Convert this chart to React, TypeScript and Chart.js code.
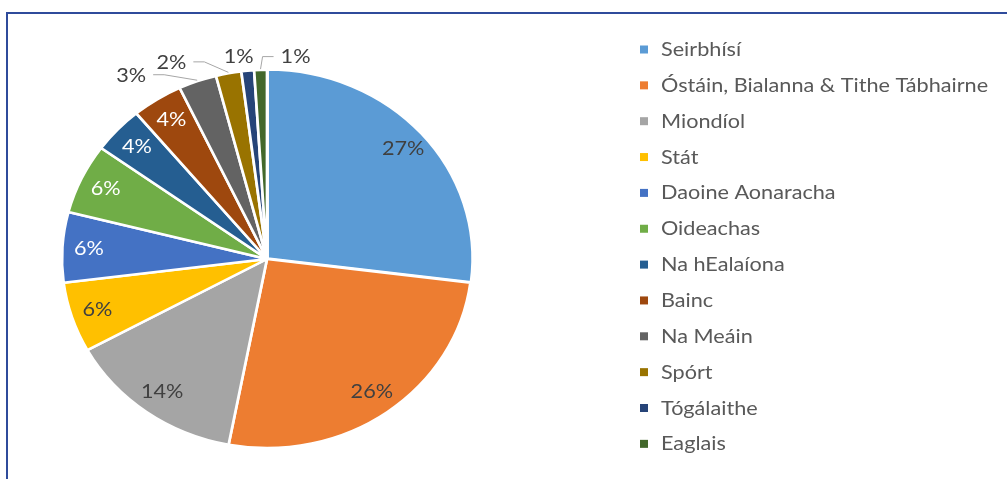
import React, { useEffect, useRef } from "react";
import { Chart, registerables } from "chart.js";

Chart.register(...registerables);

// ---- data ----
const categories = [
  "Seirbhísí",
  "Óstáin, Bialanna & Tithe Tábhairne",
  "Miondíol",
  "Stát",
  "Daoine Aonaracha",
  "Oideachas",
  "Na hEalaíona",
  "Bainc",
  "Na Meáin",
  "Spórt",
  "Tógálaithe",
  "Eaglais",
];
const shares = [27, 26, 14, 6, 6, 6, 4, 4, 3, 2, 1, 1];

// ---- styles ----
const sliceColors = [
  "#5B9BD5",
  "#ED7D31",
  "#A5A5A5",
  "#FFC000",
  "#4472C4",
  "#70AD47",
  "#255E91",
  "#9E480E",
  "#636363",
  "#997300",
  "#264478",
  "#43682B",
];
const DARK = "#404040";
const LIGHT = "#FFFFFF";
const labelColors = [DARK, DARK, DARK, DARK, LIGHT, LIGHT, LIGHT, LIGHT, DARK, DARK, DARK, DARK];
// outside label offsets (px) relative to the slice's outer-edge midpoint
const outsideOffsets: Record<number, [number, number]> = {
  8: [-66, -5],
  9: [-57, -10],
  10: [-9, -13],
  11: [35, -12],
};
const FONT = "19.5px Lato, 'Open Sans', sans-serif";
const TX = 1.11; // horizontal stretch of text
const SX = 205 / 189; // horizontal stretch of the pie
const LEGEND_X = 640;
const LEGEND_Y0 = 49;
const LEGEND_STEP = 35.85;

function drawText(ctx: CanvasRenderingContext2D, text: string, x: number, y: number) {
  ctx.save();
  ctx.translate(x, y);
  ctx.scale(TX, 1);
  ctx.fillText(text, 0, 0);
  ctx.restore();
}

export default function App() {
  const ref = useRef<HTMLCanvasElement>(null);

  useEffect(() => {
    const canvas = ref.current;
    if (!canvas) return;

    const stretchPlugin = {
      id: "stretch",
      beforeDatasetsDraw(chart: any) {
        const { ctx, chartArea } = chart;
        const cx = (chartArea.left + chartArea.right) / 2;
        const cy = (chartArea.top + chartArea.bottom) / 2;
        ctx.save();
        ctx.translate(cx, cy);
        ctx.scale(SX, 1);
        ctx.translate(-cx, -cy);
      },
      afterDatasetsDraw(chart: any) {
        const { ctx } = chart;
        ctx.restore();
        const ds = chart.data.datasets[0];
        const meta = chart.getDatasetMeta(0);
        ctx.save();
        ctx.font = FONT;
        ctx.textAlign = "center";
        ctx.textBaseline = "middle";
        meta.data.forEach((el: any, i: number) => {
          const p = el.getProps(["x", "y", "startAngle", "endAngle", "outerRadius"], true);
          const mid = (p.startAngle + p.endAngle) / 2;
          const c = Math.cos(mid);
          const s = Math.sin(mid);
          const off = (ds.offset && ds.offset[i]) || 0;
          const text = ds.data[i] + "%";
          const w = ctx.measureText(text).width * TX;
          const o = outsideOffsets[i];
          ctx.fillStyle = labelColors[i];
          if (o) {
            const ex = p.x + c * (p.outerRadius + off + 1) * SX;
            const ey = p.y + s * (p.outerRadius + off + 1);
            const lx = ex + o[0];
            const ly = ey + o[1];
            if (Math.abs(o[0]) > 20) {
              ctx.strokeStyle = "#A6A6A6";
              ctx.lineWidth = 1;
              ctx.beginPath();
              const dir = o[0] < 0 ? 1 : -1;
              const sx0 = lx + dir * (w / 2 + 7);
              const sx1 = sx0 + dir * 11;
              ctx.moveTo(sx0, ly - 0.5);
              ctx.lineTo(sx1, ly - 0.5);
              ctx.lineTo(ex, ey);
              ctx.stroke();
            }
            drawText(ctx, text, lx, ly);
          } else {
            const r = p.outerRadius * 0.87 + off;
            const lx = p.x + c * r * SX;
            const ly = p.y + s * r;
            drawText(ctx, text, lx, ly);
          }
        });
        ctx.restore();
      },
    };

    const legendPlugin = {
      id: "customLegend",
      afterDraw(chart: any) {
        const { ctx } = chart;
        const ds = chart.data.datasets[0];
        ctx.save();
        ctx.font = FONT;
        ctx.textAlign = "left";
        ctx.textBaseline = "alphabetic";
        chart.data.labels.forEach((lab: string, i: number) => {
          const cy = LEGEND_Y0 + i * LEGEND_STEP;
          ctx.fillStyle = ds.backgroundColor[i];
          ctx.fillRect(LEGEND_X, cy - 3.5, 8, 8);
          ctx.fillStyle = "#595959";
          drawText(ctx, lab, LEGEND_X + 21, cy + 7);
        });
        ctx.restore();
      },
    };

    const chart = new Chart(canvas, {
      type: "pie",
      data: {
        labels: categories,
        datasets: [
          {
            data: shares,
            backgroundColor: sliceColors,
            borderColor: "#FFFFFF",
            borderWidth: 2.5,
            offset: shares.map((_, i) => (i === 0 ? 3 : 0)),
          },
        ],
      },
      options: {
        responsive: false,
        animation: false,
        radius: 189,
        layout: { padding: { left: 0, right: 473, top: 39, bottom: 0 } },
        plugins: {
          legend: { display: false },
          tooltip: { enabled: false },
        },
      } as any,
      plugins: [stretchPlugin, legendPlugin],
    });

    return () => chart.destroy();
  }, []);

  return (
    <div style={{ position: "fixed", left: 0, top: 0, width: 1007, height: 479, background: "#FFFFFF", overflow: "hidden" }}>
      <canvas ref={ref} width={1007} height={479} style={{ position: "absolute", left: 0, top: 0 }} />
      <div
        style={{
          position: "absolute",
          left: 6,
          top: 12,
          width: 1010,
          height: 480,
          borderTop: "2px solid #2F4B9B",
          borderLeft: "2px solid #2F4B9B",
          pointerEvents: "none",
        }}
      />
    </div>
  );
}
